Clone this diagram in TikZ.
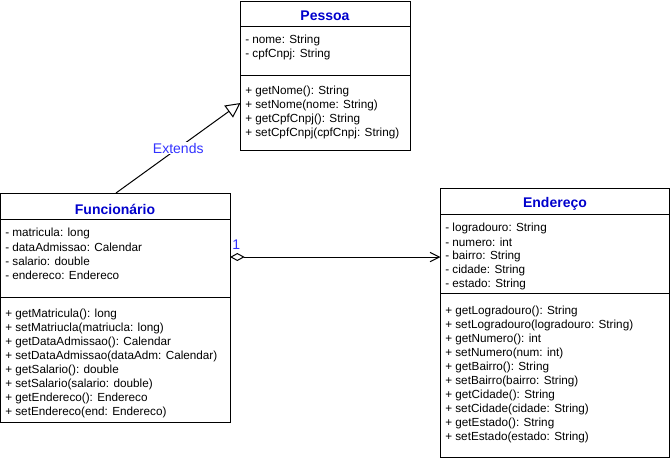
\documentclass[tikz,border=0pt]{standalone}
\usepackage{fontspec}
\setmainfont{Liberation Sans}
\usetikzlibrary{arrows.meta}
\definecolor{titleblue}{HTML}{0000CC}
\definecolor{labelblue}{HTML}{3333FF}
\tikzset{
  classbox/.style={draw, line width=0.75pt, inner sep=0pt},
  sepline/.style={line width=0.75pt},
  member/.style={anchor=west, inner sep=0pt, font=\fontsize{8.8pt}{9pt}\selectfont},
  ctitle/.style={inner sep=0pt, text=titleblue, font=\fontsize{10.5pt}{11pt}\selectfont\bfseries},
  elabel/.style={inner sep=1pt, text=labelblue, font=\fontsize{10.5pt}{11pt}\selectfont},
  conn/.style={line width=0.75pt},
}
\begin{document}
\begin{tikzpicture}[x=0.75pt, y=-0.75pt]
\useasboundingbox (0,0) rectangle (671,462);

% Pessoa
\draw[classbox] (240.5,1) rectangle (410,150);
\draw[sepline] (240.5,26) -- (410,26);
\draw[sepline] (240.5,75) -- (410,75);
\node[ctitle] (ptitle) at (325,16) {Pessoa};
\node[member] (p1) at (245,40) {- nome: String};
\node[member] (p2) at (245,54) {- cpfCnpj: String};
\node[member] (p3) at (245,91) {+ getNome(): String};
\node[member] (p4) at (245,105) {+ setNome(nome: String)};
\node[member] (p5) at (245,119) {+ getCpfCnpj(): String};
\node[member] (p6) at (245,133) {+ setCpfCnpj(cpfCnpj: String)};
\coordinate (pessoaIn) at (240.5,103);

% Funcionario
\draw[classbox] (0.5,193) rectangle (230,422);
\draw[sepline] (0.5,219) -- (230,219);
\draw[sepline] (0.5,297) -- (230,297);
\node[ctitle] (ftitle) at (115,209) {Funcionário};
\node[member] (f1) at (5,233) {- matricula: long};
\node[member] (f2) at (5,247) {- dataAdmissao: Calendar};
\node[member] (f3) at (5,261) {- salario: double};
\node[member] (f4) at (5,275) {- endereco: Endereco};
\node[member] (f5) at (5,314) {+ getMatricula(): long};
\node[member] (f6) at (5,328) {+ setMatriucla(matriucla: long)};
\node[member] (f7) at (5,342) {+ getDataAdmissao(): Calendar};
\node[member] (f8) at (5,356) {+ setDataAdmissao(dataAdm: Calendar)};
\node[member] (f9) at (5,370) {+ getSalario(): double};
\node[member] (f10) at (5,384) {+ setSalario(salario: double)};
\node[member] (f11) at (5,398) {+ getEndereco(): Endereco};
\node[member] (f12) at (5,412) {+ setEndereco(end: Endereco)};
\coordinate (funcTop) at (116,193);
\coordinate (funcRight) at (230,257);

% Endereco
\draw[classbox] (440.5,188) rectangle (669,457);
\draw[sepline] (440.5,214) -- (669,214);
\draw[sepline] (440.5,293) -- (669,293);
\node[ctitle] (etitle) at (555,204) {Endereço};
\node[member] (e1) at (445,228) {- logradouro: String};
\node[member] (e2) at (445,242) {- numero: int};
\node[member] (e3) at (445,256) {- bairro: String};
\node[member] (e4) at (445,270) {- cidade: String};
\node[member] (e5) at (445,284) {- estado: String};
\node[member] (e6) at (445,311) {+ getLogradouro(): String};
\node[member] (e7) at (445,325) {+ setLogradouro(logradouro: String)};
\node[member] (e8) at (445,339) {+ getNumero(): int};
\node[member] (e9) at (445,353) {+ setNumero(num: int)};
\node[member] (e10) at (445,367) {+ getBairro(): String};
\node[member] (e11) at (445,381) {+ setBairro(bairro: String)};
\node[member] (e12) at (445,395) {+ getCidade(): String};
\node[member] (e13) at (445,409) {+ setCidade(cidade: String)};
\node[member] (e14) at (445,423) {+ getEstado(): String};
\node[member] (e15) at (445,437) {+ setEstado(estado: String)};
\coordinate (endLeft) at (440.5,257);

% Generalization
\draw[conn, -{Triangle[open, length=11pt, width=11pt]}] (funcTop) -- (pessoaIn)
  node[pos=0.5, elabel, fill=white] (ext) {Extends};

% Aggregation
\draw[conn, {Diamond[open, length=11pt, width=6pt]}-{Straight Barb[length=7pt, width=7pt]}] (funcRight) -- (endLeft);
\node[elabel, anchor=south west, inner sep=0pt] (mult) at (232,250) {1};
\end{tikzpicture}
\end{document}
